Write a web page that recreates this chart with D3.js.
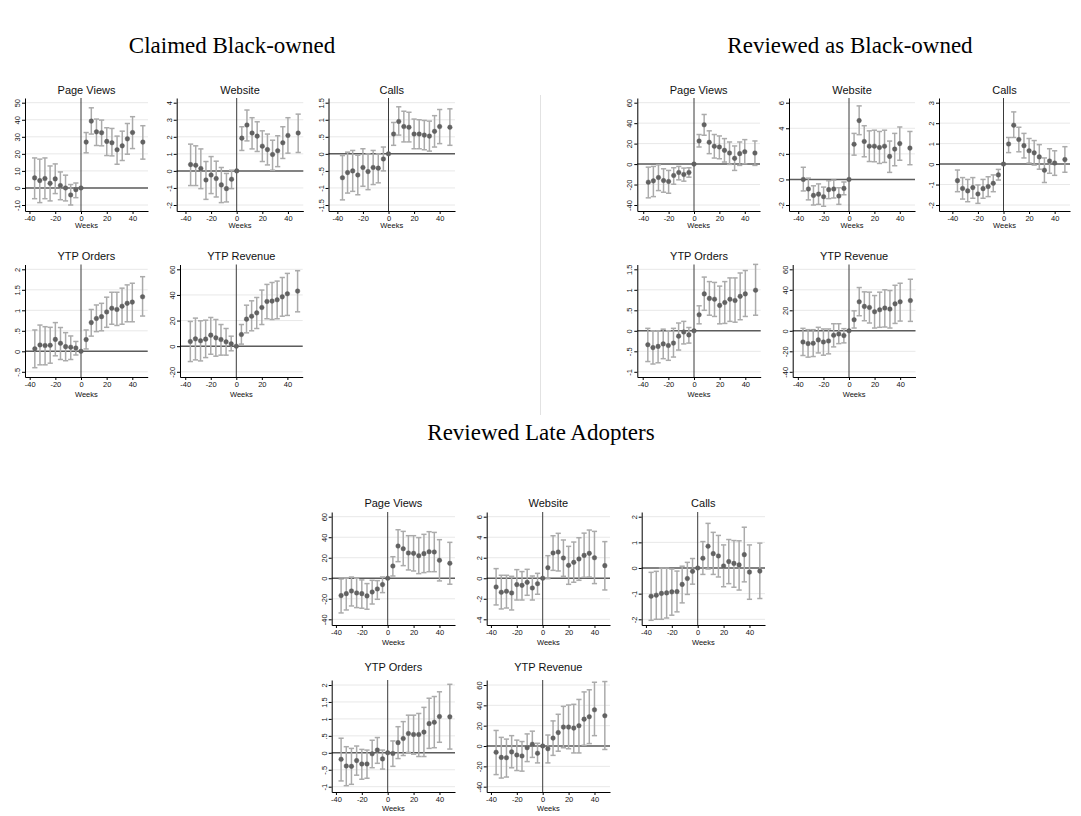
<!DOCTYPE html>
<html>
<head>
<meta charset="utf-8">
<script src="https://cdn.jsdelivr.net/npm/d3@7"></script>
<style>
  html, body { margin: 0; padding: 0; background: #fff; }
  svg { display: block; }
</style>
</head>
<body>
<svg id="chart" width="1081" height="816"></svg>
<script>
// Event-study estimates by week relative to adoption (week 0 = reference).
const weeks = [-36, -32, -28, -24, -20, -16, -12, -8, -4, 0, 4, 8, 12, 16, 20, 24, 28, 32, 36, 40, 48];
const weekTicks = [-40, -20, 0, 20, 40];

const groupTitles = ["Claimed Black-owned", "Reviewed as Black-owned", "Reviewed Late Adopters"];
const panelTitles = ["Page Views", "Website", "Calls", "YTP Orders", "YTP Revenue"];

// Claimed Black-owned
const claimedViews   = [5.9, 4.3, 5.5, 2.7, 5.3, 1.4, 0, -4.1, -1, 0, 26.9, 39.2, 32.9, 32.4, 27.3, 26.5, 22.4, 24.7, 28.8, 32.5, 26.9];
const claimedViewsLo = [-6.3, -8.6, -6.3, -7.6, -3.3, -6.9, -7.6, -10, -5.7, 0, 20.6, 31.6, 24.9, 24.7, 19, 18.8, 13.9, 16.1, 19.8, 23.1, 16.9];
const claimedViewsHi = [17.6, 16.9, 17.6, 12.9, 14.1, 9.4, 7.5, 2, 2.9, 0, 32.5, 47, 40.4, 39.8, 35.3, 34.9, 30.4, 33.3, 37.8, 41.8, 36.5];
const claimedViewsTicks = [-10, 0, 10, 20, 30, 40, 50];

const claimedWeb   = [0.37, 0.33, 0.14, -0.53, -0.24, -0.45, -0.82, -1.04, -0.49, 0, 1.92, 2.69, 2.22, 2.04, 1.45, 1.25, 0.96, 1.18, 1.65, 2.08, 2.22];
const claimedWebLo = [-0.86, -0.86, -1.04, -1.67, -1.33, -1.53, -1.86, -1.82, -1.04, 0, 1.2, 1.76, 1.29, 1.14, 0.55, 0.35, 0.04, 0.25, 0.73, 1.04, 1.08];
const claimedWebHi = [1.57, 1.47, 1.29, 0.55, 0.84, 0.57, 0.2, -0.15, 0.04, 0, 2.59, 3.57, 3.12, 2.88, 2.35, 2.16, 1.8, 2.06, 2.59, 3.12, 3.33];
const claimedWebTicks = [-2, -1, 0, 1, 2, 3, 4];

const claimedCalls   = [-0.70, -0.55, -0.50, -0.62, -0.40, -0.52, -0.40, -0.42, -0.15, 0, 0.58, 0.95, 0.80, 0.78, 0.58, 0.58, 0.55, 0.52, 0.66, 0.80, 0.78];
const claimedCallsLo = [-1.35, -1.15, -1.1, -1.2, -0.95, -1.05, -0.9, -0.85, -0.5, 0, 0.25, 0.55, 0.35, 0.35, 0.15, 0.15, 0.12, 0.08, 0.2, 0.3, 0.25];
const claimedCallsHi = [-0.05, 0.05, 0.1, -0.04, 0.15, 0.0, 0.1, 0.0, 0.2, 0, 0.92, 1.38, 1.25, 1.22, 1.02, 1.0, 0.98, 0.96, 1.12, 1.3, 1.32];
const claimedCallsTicks = [-1.5, -1, -0.5, 0, 0.5, 1, 1.5];

const claimedOrders   = [0.06, 0.155, 0.14, 0.146, 0.29, 0.195, 0.114, 0.1, 0.08, 0, 0.285, 0.7, 0.8, 0.845, 0.96, 1.05, 1.02, 1.1, 1.17, 1.2, 1.33];
const claimedOrdersLo = [-0.4, -0.33, -0.33, -0.29, -0.11, -0.2, -0.23, -0.2, -0.09, 0, 0.057, 0.37, 0.48, 0.5, 0.585, 0.66, 0.63, 0.66, 0.72, 0.72, 0.86];
const claimedOrdersHi = [0.52, 0.64, 0.6, 0.585, 0.7, 0.58, 0.455, 0.374, 0.24, 0, 0.52, 1.02, 1.13, 1.17, 1.32, 1.44, 1.44, 1.54, 1.62, 1.66, 1.82];
const claimedOrdersTicks = [-0.5, 0, 0.5, 1, 1.5, 2];

const claimedRevenue   = [3.6, 5.7, 4.2, 5.5, 8.6, 6.5, 5.2, 3.4, 1.8, 0, 9.1, 21.1, 23.4, 26, 30.2, 34.9, 35.2, 36.2, 38.5, 40.9, 43];
const claimedRevenueLo = [-12, -10.7, -11.5, -8.9, -6.3, -7.8, -7, -7, -3.6, 0, 1.6, 10.4, 12, 13.8, 16.9, 21.4, 20.8, 21.4, 23.4, 24, 26.8];
const claimedRevenueHi = [19.3, 21.9, 19.8, 20.3, 22.4, 20.8, 16.9, 13.8, 7.8, 0, 16.9, 32, 35.4, 38, 43.8, 48.2, 49.7, 50.8, 53.6, 56.8, 58.9];
const claimedRevenueTicks = [-20, 0, 20, 40, 60];

// Reviewed as Black-owned
const reviewedViews   = [-17.7, -16.4, -13.1, -16.1, -17, -11.1, -8.2, -10.2, -8.2, 0, 22.6, 38.4, 21.3, 17.4, 16.7, 13.4, 10.8, 5.6, 10.2, 12.1, 10.8];
const reviewedViewsLo = [-33, -31.8, -25.9, -27.5, -28.5, -19.7, -15.4, -16.7, -12.8, 0, 16.7, 28.2, 10.2, 5.9, 5.2, 2, -0.3, -6.2, -1.3, 0.3, -1.3];
const reviewedViewsHi = [-3, -2.3, -0.7, -4.6, -6.2, -3.6, -2.3, -3.9, -3.6, 0, 28.9, 48.5, 32.5, 28.9, 27.5, 24.9, 21.6, 17.7, 21.6, 23.9, 22.6];
const reviewedViewsTicks = [-40, -20, 0, 20, 40, 60];

const reviewedWeb   = [0, -0.75, -1.25, -1.15, -1.35, -0.8, -0.75, -1.3, -0.7, 0, 2.75, 4.6, 2.97, 2.6, 2.6, 2.5, 2.6, 1.8, 2.37, 2.8, 2.45];
const reviewedWebLo = [-0.9, -1.6, -2.0, -1.95, -2.1, -1.5, -1.45, -1.95, -1.2, 0, 1.9, 3.5, 1.77, 1.4, 1.38, 1.25, 1.33, 0.55, 1.07, 1.5, 1.15];
const reviewedWebHi = [0.95, 0.1, -0.5, -0.35, -0.6, -0.1, -0.05, -0.65, -0.2, 0, 3.6, 5.75, 4.2, 3.8, 3.85, 3.75, 3.85, 3.0, 3.6, 4.1, 3.75];
const reviewedWebTicks = [-2, 0, 2, 4, 6];

const reviewedCalls   = [-0.81, -1.19, -1.31, -1.15, -1.46, -1.2, -1.1, -0.94, -0.53, 0, 0.98, 1.9, 1.2, 0.9, 0.65, 0.55, 0.35, -0.3, 0.15, 0.05, 0.22];
const reviewedCallsLo = [-1.35, -1.71, -1.84, -1.67, -1.92, -1.67, -1.59, -1.35, -0.78, 0, 0.56, 1.3, 0.6, 0.3, 0.05, -0.05, -0.25, -0.9, -0.45, -0.55, -0.4];
const reviewedCallsHi = [-0.29, -0.66, -0.75, -0.66, -1.02, -0.75, -0.62, -0.53, -0.26, 0, 1.3, 2.55, 1.8, 1.5, 1.25, 1.15, 0.95, 0.3, 0.75, 0.65, 0.85];
const reviewedCallsTicks = [-2, -1, 0, 1, 2, 3];

const reviewedOrders   = [-0.34, -0.41, -0.38, -0.32, -0.36, -0.3, -0.13, -0.03, -0.1, 0, 0.39, 0.9, 0.79, 0.77, 0.62, 0.69, 0.77, 0.74, 0.84, 0.9, 0.99];
const reviewedOrdersLo = [-0.75, -0.81, -0.78, -0.68, -0.72, -0.64, -0.47, -0.32, -0.3, 0, 0.17, 0.5, 0.38, 0.35, 0.17, 0.18, 0.23, 0.21, 0.27, 0.35, 0.38];
const reviewedOrdersHi = [0.06, 0, 0, 0.04, 0, 0.06, 0.19, 0.23, 0.08, 0, 0.61, 1.31, 1.2, 1.18, 1.09, 1.2, 1.29, 1.29, 1.41, 1.47, 1.62];
const reviewedOrdersTicks = [-1, -0.5, 0, 0.5, 1, 1.5];

const reviewedRevenue   = [-10.9, -12.5, -12.2, -8.9, -10.9, -9.9, -4.4, -3.1, -4.7, 0, 10.8, 28.3, 23.8, 22.8, 18.6, 20.5, 22.2, 21.2, 26.3, 28.3, 29.5];
const reviewedRevenueLo = [-24.1, -25.7, -25.1, -21.6, -23.8, -22.5, -15.7, -12.5, -11.8, 0, 2.7, 14.7, 9.8, 7.6, 2.7, 3.4, 3.7, 2.7, 7.2, 9.5, 9.2];
const reviewedRevenueHi = [2.4, 1.1, 1.1, 3.4, 1.8, 1.8, 6.9, 6.9, 2.1, 0, 19.5, 42.2, 38, 37.7, 34.4, 37.7, 40, 39.3, 44.4, 46.4, 50.3];
const reviewedRevenueTicks = [-40, -20, 0, 20, 40, 60];

// Reviewed Late Adopters
const lateViews   = [-16.9, -15, -12.4, -14.3, -15, -17.2, -13.4, -10.4, -6.2, 0, 11.9, 31.4, 28.8, 24.6, 24.3, 22, 24, 25.9, 25.6, 17.5, 14.6];
const lateViewsLo = [-33.8, -30.9, -27, -28.6, -29.2, -30.2, -25.1, -20.5, -14, 0, 2.2, 16.2, 12.3, 8.1, 7.1, 4.5, 5.5, 6.4, 6.4, -2.6, -5.8];
const lateViewsHi = [-0.7, 0, 1.2, 0, -1.6, -5.2, -2, -2.3, 1.2, 0, 21, 47.3, 45.7, 41.5, 41.5, 39.6, 42.8, 45.4, 44.7, 37.6, 35];
const lateViewsTicks = [-40, -20, 0, 20, 40, 60];

const lateWeb   = [-0.85, -1.37, -1.27, -1.43, -0.62, -0.69, -0.4, -0.95, -0.53, 0, 1.03, 2.46, 2.56, 1.97, 1.26, 1.55, 1.88, 2.23, 2.43, 2.0, 1.23];
const lateWebLo = [-2.6, -2.99, -2.9, -3.09, -2.12, -2.12, -1.66, -2.12, -1.56, 0, -0.04, 0.77, 0.71, 0.19, -0.59, -0.39, -0.2, 0.09, 0.12, -0.52, -1.14];
const lateWebHi = [0.94, 0.29, 0.29, 0.19, 0.84, 0.65, 0.87, 0.22, 0.48, 0, 2.2, 4.14, 4.38, 3.73, 3.11, 3.53, 3.95, 4.4, 4.7, 4.57, 3.57];
const lateWebTicks = [-4, -2, 0, 2, 4, 6];

const lateCalls   = [-1.1, -1.06, -0.99, -0.97, -0.93, -0.92, -0.64, -0.41, -0.13, 0, 0.38, 0.85, 0.56, 0.47, 0.08, 0.25, 0.18, 0.12, 0.52, -0.16, -0.12];
const lateCallsLo = [-2.04, -2.0, -2.0, -1.95, -1.84, -1.71, -1.36, -1.03, -0.63, 0, -0.25, -0.04, -0.25, -0.35, -0.73, -0.61, -0.75, -0.86, -0.54, -1.22, -1.19];
const lateCallsHi = [-0.17, -0.13, 0, 0, -0.04, -0.12, 0.07, 0.22, 0.37, 0, 1.03, 1.74, 1.39, 1.27, 0.9, 1.11, 1.07, 1.06, 1.59, 0.9, 0.97];
const lateCallsTicks = [-2, -1, 0, 1, 2];

const lateOrders   = [-0.19, -0.39, -0.4, -0.23, -0.33, -0.33, -0.03, 0.08, -0.18, 0, -0.02, 0.3, 0.42, 0.57, 0.54, 0.54, 0.61, 0.86, 0.9, 1.07, 1.06];
const lateOrdersLo = [-0.83, -0.97, -0.93, -0.66, -0.78, -0.75, -0.44, -0.31, -0.48, 0, -0.4, -0.17, -0.08, 0.01, -0.04, -0.11, -0.11, 0.13, 0.15, 0.31, 0.11];
const lateOrdersHi = [0.43, 0.18, 0.13, 0.2, 0.1, 0.08, 0.37, 0.45, 0.08, 0, 0.35, 0.77, 0.92, 1.11, 1.11, 1.16, 1.34, 1.61, 1.66, 1.8, 2.02];
const lateOrdersTicks = [-1, -0.5, 0, 0.5, 1, 1.5, 2];

const lateRevenue   = [-6.1, -11.2, -11.5, -5.8, -8.8, -9.8, -1.7, 1.7, -7.1, 0, -2.7, 7.8, 13.2, 18.6, 18.6, 17.6, 20, 26.4, 28.8, 35.6, 29.8];
const lateRevenueLo = [-28.1, -31.5, -30.5, -21.4, -24.1, -24.7, -15.3, -11.2, -16.6, 0, -16.6, -9.2, -5.1, -1.7, -2.7, -6.8, -6.8, 0.7, 2.4, 10.2, -3.4];
const lateRevenueHi = [15.3, 8.5, 6.8, 10.2, 5.8, 4.4, 11.9, 14.6, 2.7, 0, 10.8, 24.7, 31.2, 39, 40.3, 41, 45.8, 53.2, 55.3, 62.7, 63.4];
const lateRevenueTicks = [-40, -20, 0, 20, 40, 60];

// ---- layout ---------------------------------------------------------------
// Vertical geometry of each panel row: outer tick positions and plot box.
const rowGeom = {
  t1: { tickTop: 102.7, tickBot: 205,   top: 98,    bot: 211,   titleY: 90,    weeksY: 225.7 },
  t2: { tickTop: 269.3, tickBot: 371.8, top: 264.5, bot: 377,   titleY: 256,   weeksY: 394.3 },
  b1: { tickTop: 516.7, tickBot: 619.3, top: 512,   bot: 625,   titleY: 503.3, weeksY: 642.3 },
  b2: { tickTop: 685,   tickBot: 786.7, top: 680,   bot: 792,   titleY: 666.7, weeksY: 808.3 }
};

const panels = [
  { t: 0, row: "t1", ax: 25,    zx: 81,    rx: 148,   c: claimedViews,    lo: claimedViewsLo,    hi: claimedViewsHi,    ticks: claimedViewsTicks },
  { t: 1, row: "t1", ax: 176.7, zx: 236.7, rx: 303.3, c: claimedWeb,      lo: claimedWebLo,      hi: claimedWebHi,      ticks: claimedWebTicks },
  { t: 2, row: "t1", ax: 328.5, zx: 388.5, rx: 455,   c: claimedCalls,    lo: claimedCallsLo,    hi: claimedCallsHi,    ticks: claimedCallsTicks },
  { t: 3, row: "t2", ax: 25,    zx: 81,    rx: 147.7, c: claimedOrders,   lo: claimedOrdersLo,   hi: claimedOrdersHi,   ticks: claimedOrdersTicks },
  { t: 4, row: "t2", ax: 180,   zx: 236.3, rx: 302.7, c: claimedRevenue,  lo: claimedRevenueLo,  hi: claimedRevenueHi,  ticks: claimedRevenueTicks },

  { t: 0, row: "t1", ax: 637.3, zx: 694,   rx: 760,   c: reviewedViews,   lo: reviewedViewsLo,   hi: reviewedViewsHi,   ticks: reviewedViewsTicks },
  { t: 1, row: "t1", ax: 789,   zx: 849,   rx: 915,   c: reviewedWeb,     lo: reviewedWebLo,     hi: reviewedWebHi,     ticks: reviewedWebTicks },
  { t: 2, row: "t1", ax: 939,   zx: 1003.5,rx: 1070,  c: reviewedCalls,   lo: reviewedCallsLo,   hi: reviewedCallsHi,   ticks: reviewedCallsTicks },
  { t: 3, row: "t2", ax: 637.3, zx: 694,   rx: 760.7, c: reviewedOrders,  lo: reviewedOrdersLo,  hi: reviewedOrdersHi,  ticks: reviewedOrdersTicks },
  { t: 4, row: "t2", ax: 792.7, zx: 849,   rx: 915.5, c: reviewedRevenue, lo: reviewedRevenueLo, hi: reviewedRevenueHi, ticks: reviewedRevenueTicks },

  { t: 0, row: "b1", ax: 331.7, zx: 387.7, rx: 455,   c: lateViews,       lo: lateViewsLo,       hi: lateViewsHi,       ticks: lateViewsTicks },
  { t: 1, row: "b1", ax: 486.7, zx: 542.7, rx: 610,   c: lateWeb,         lo: lateWebLo,         hi: lateWebHi,         ticks: lateWebTicks },
  { t: 2, row: "b1", ax: 641.7, zx: 697.7, rx: 765,   c: lateCalls,       lo: lateCallsLo,       hi: lateCallsHi,       ticks: lateCallsTicks },
  { t: 3, row: "b2", ax: 331.7, zx: 387.7, rx: 455,   c: lateOrders,      lo: lateOrdersLo,      hi: lateOrdersHi,      ticks: lateOrdersTicks },
  { t: 4, row: "b2", ax: 486.7, zx: 542.7, rx: 610,   c: lateRevenue,     lo: lateRevenueLo,     hi: lateRevenueHi,     ticks: lateRevenueTicks }
];

const SANS = "'Liberation Sans', Arial, sans-serif";
const SERIF = "'Liberation Serif', 'Times New Roman', serif";

// Stata-style numeric labels: ".5", "-.5", "1.5"
const fmtNum = d => String(d).replace(/^(-?)0\./, "$1.");

const svg = d3.select("#chart");

// Group headings
const headings = [
  { text: groupTitles[0], x: 232, y: 53 },
  { text: groupTitles[1], x: 850, y: 53 },
  { text: groupTitles[2], x: 541, y: 440 }
];
svg.selectAll("text.heading").data(headings).join("text")
  .attr("class", "heading")
  .attr("x", d => d.x).attr("y", d => d.y)
  .attr("text-anchor", "middle")
  .attr("font-family", SERIF).attr("font-size", 23)
  .attr("fill", "#000")
  .text(d => d.text);

// Divider between the two upper groups
svg.append("line")
  .attr("x1", 540.5).attr("x2", 540.5).attr("y1", 95).attr("y2", 415)
  .attr("stroke", "#e2e2e2").attr("stroke-width", 1);

panels.forEach(p => {
  const g = rowGeom[p.row];
  const k = (p.rx - p.zx) / 52;
  const x = d3.scaleLinear()
    .domain([(p.ax - p.zx) / k, (p.rx - p.zx) / k])
    .range([p.ax, p.rx]);

  const tmin = d3.min(p.ticks), tmax = d3.max(p.ticks);
  const y0 = d3.scaleLinear().domain([tmin, tmax]).range([g.tickBot, g.tickTop]);
  const y = d3.scaleLinear().domain([y0.invert(g.bot), y0.invert(g.top)]).range([g.bot, g.top]);

  const panel = svg.append("g");

  // gridlines
  panel.append("g").selectAll("line").data(p.ticks).join("line")
    .attr("x1", p.ax).attr("x2", p.rx)
    .attr("y1", d => y(d)).attr("y2", d => y(d))
    .attr("stroke", "#e8e8e8").attr("stroke-width", 1);

  // reference lines at zero
  panel.append("line")
    .attr("x1", p.ax).attr("x2", p.rx).attr("y1", y(0)).attr("y2", y(0))
    .attr("stroke", "#5c5c5c").attr("stroke-width", 1.5);
  panel.append("line")
    .attr("x1", x(0)).attr("x2", x(0)).attr("y1", g.top).attr("y2", g.bot)
    .attr("stroke", "#3a3a3a").attr("stroke-width", 1);

  const pts = weeks.map((w, i) => ({ w, c: p.c[i], lo: p.lo[i], hi: p.hi[i] }));

  // confidence intervals with caps
  const ci = panel.append("g").attr("stroke", "#ababab").attr("stroke-width", 1.5).attr("fill", "none");
  ci.selectAll("line.v").data(pts.filter(d => d.hi !== d.lo)).join("line")
    .attr("class", "v")
    .attr("x1", d => x(d.w)).attr("x2", d => x(d.w))
    .attr("y1", d => y(d.lo)).attr("y2", d => y(d.hi));
  ["lo", "hi"].forEach(key => {
    ci.selectAll("line.cap-" + key).data(pts.filter(d => d.hi !== d.lo)).join("line")
      .attr("class", "cap-" + key)
      .attr("x1", d => x(d.w) - 2.6).attr("x2", d => x(d.w) + 2.6)
      .attr("y1", d => y(d[key])).attr("y2", d => y(d[key]));
  });

  // point estimates
  panel.append("g").selectAll("circle").data(pts).join("circle")
    .attr("cx", d => x(d.w)).attr("cy", d => y(d.c)).attr("r", 2.3)
    .attr("fill", "#626262").attr("stroke", "#555").attr("stroke-width", 0.4);

  // y axis
  const yAxis = panel.append("g")
    .attr("transform", `translate(${p.ax},0)`)
    .call(d3.axisLeft(y).tickValues(p.ticks).tickSize(3).tickSizeOuter(0).tickFormat(fmtNum));
  yAxis.select(".domain").attr("stroke", "#000").attr("stroke-width", 1);
  yAxis.selectAll(".tick line").attr("stroke", "#000");
  yAxis.selectAll(".tick text")
    .attr("transform", "rotate(-90)")
    .attr("x", 0).attr("y", -5).attr("dy", 0)
    .attr("text-anchor", "middle")
    .attr("font-family", SANS).attr("font-size", 7.5).attr("fill", "#111");

  // x axis
  const xAxis = panel.append("g")
    .attr("transform", `translate(0,${g.bot})`)
    .call(d3.axisBottom(x).tickValues(weekTicks).tickSize(3).tickSizeOuter(0).tickPadding(1.5).tickFormat(d => String(d)));
  xAxis.select(".domain").attr("stroke", "#000").attr("stroke-width", 1);
  xAxis.selectAll(".tick line").attr("stroke", "#000");
  xAxis.selectAll(".tick text")
    .attr("font-family", SANS).attr("font-size", 7.5).attr("fill", "#111");

  // axis title
  panel.append("text")
    .attr("x", (p.ax + p.rx) / 2).attr("y", g.weeksY).attr("dy", "0.35em")
    .attr("text-anchor", "middle")
    .attr("font-family", SANS).attr("font-size", 7.5).attr("fill", "#111")
    .text("Weeks");

  // panel title
  panel.append("text")
    .attr("x", (p.ax + p.rx) / 2).attr("y", g.titleY).attr("dy", "0.35em")
    .attr("text-anchor", "middle")
    .attr("font-family", SANS).attr("font-size", 11).attr("fill", "#111")
    .text(panelTitles[p.t]);
});
</script>
</body>
</html>
